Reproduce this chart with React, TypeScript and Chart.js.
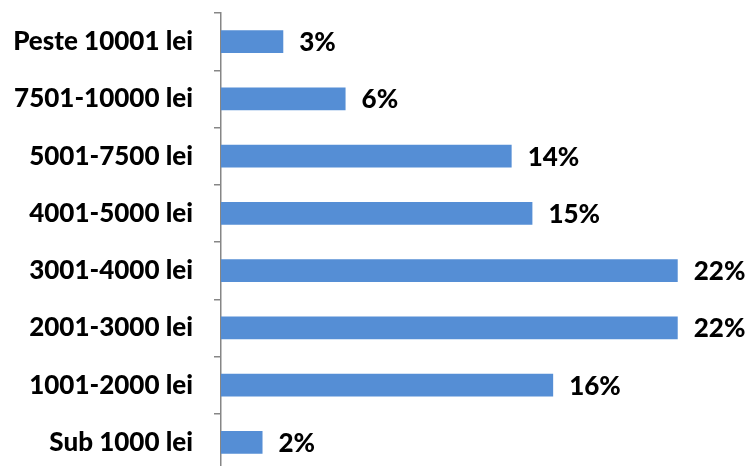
import React, { useEffect, useRef } from "react";
import { Chart, registerables } from "chart.js";

Chart.register(...registerables);

const categories = [
  "Peste 10001 lei",
  "7501-10000 lei",
  "5001-7500 lei",
  "4001-5000 lei",
  "3001-4000 lei",
  "2001-3000 lei",
  "1001-2000 lei",
  "Sub 1000 lei",
];
const values = [3, 6, 14, 15, 22, 22, 16, 2];
const valueLabels = ["3%", "6%", "14%", "15%", "22%", "22%", "16%", "2%"];
const axisMax = 25;

const FONT = "Lato, 'Open Sans', sans-serif";
const FONT_SIZE = 26;
const FONT_WEIGHT = 900;

const labelPlugin = {
  id: "barLabels",
  afterDatasetsDraw(chart: any) {
    const ctx = chart.ctx;
    const meta = chart.getDatasetMeta(0);
    ctx.save();
    ctx.font = `${FONT_WEIGHT} ${FONT_SIZE}px ${FONT}`;
    ctx.fillStyle = "#000";
    ctx.textAlign = "left";
    ctx.textBaseline = "middle";
    meta.data.forEach((bar: any, i: number) => {
      ctx.fillText(valueLabels[i], bar.x + 16, bar.y + 1);
    });
    ctx.restore();
  },
};

export default function App() {
  const ref = useRef<HTMLCanvasElement | null>(null);
  useEffect(() => {
    document.body.style.overflow = "hidden";
    document.body.style.margin = "0";
    const chart = new Chart(ref.current as HTMLCanvasElement, {
      type: "bar",
      data: {
        labels: categories,
        datasets: [
          {
            data: values,
            backgroundColor: "#558ED5",
            borderWidth: 0,
            barPercentage: 0.4,
            categoryPercentage: 1,
          },
        ],
      },
      options: {
        indexAxis: "y",
        animation: false,
        responsive: false,
        devicePixelRatio: 1,
        layout: { padding: { top: 13, right: 8, bottom: 5, left: 0 } },
        plugins: {
          legend: { display: false },
          tooltip: { enabled: false },
        },
        scales: {
          x: {
            display: false,
            min: 0,
            max: axisMax,
          },
          y: {
            afterFit(scale: any) {
              scale.width = 221;
              scale.paddingTop = 0;
              scale.paddingBottom = 0;
            },
            grid: {
              offset: true,
              drawOnChartArea: false,
              drawTicks: true,
              tickLength: 7,
              color: "#868686",
              lineWidth: 1.5,
            },
            border: { display: true, color: "#868686", width: 1.5 },
            ticks: {
              color: "#000",
              padding: 21,
              font: { family: FONT, size: FONT_SIZE, weight: FONT_WEIGHT },
            },
          },
        },
      },
      plugins: [labelPlugin],
    } as any);
    return () => chart.destroy();
  }, []);
  return (
    <div style={{ position: "absolute", left: 0, top: 0, width: 748, height: 476 }}>
      <canvas ref={ref} width={748} height={476} style={{ display: "block" }} />
    </div>
  );
}
